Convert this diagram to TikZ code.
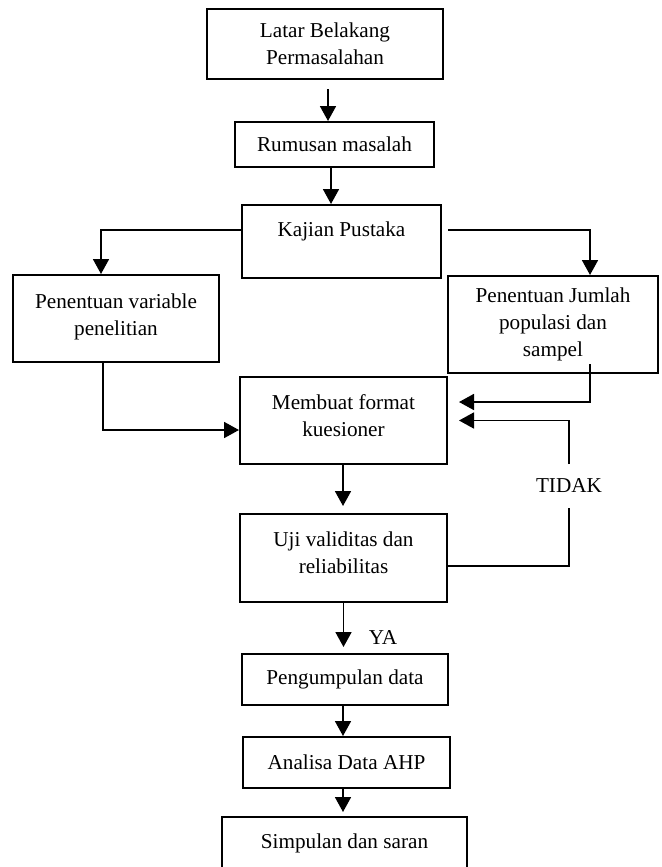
\documentclass[tikz,border=0pt]{standalone}
\usepackage{fontspec}
\setmainfont{Liberation Serif}
\usetikzlibrary{arrows.meta}
\usetikzlibrary{calc}

\begin{document}
\begin{tikzpicture}[x=0.5pt, y=-0.5pt,
    teks/.style={font=\fontsize{10.6}{13.5}\selectfont},
    kotak/.style={teks, draw, line width=1pt, align=center, inner sep=2pt},
    panah/.style={line width=0.9pt, -{Triangle[width=8pt, length=7.5pt]}},
    garis/.style={line width=0.9pt}]
      \useasboundingbox (0,0) rectangle (661,867);
      \clip (0,0) rectangle (661,867);

      \node[kotak, minimum width=118pt, minimum height=35pt] (latar) at (325,44) {Latar Belakang\\Permasalahan};
      \node[kotak, minimum width=99.5pt, minimum height=22.5pt] (rumusan) at (334.5,144.5) {Rumusan masalah};
      \node[kotak, minimum width=99.5pt, minimum height=36.5pt, text depth=12pt] (kajian) at (341.5,241.5) {Kajian Pustaka};
      \node[kotak, minimum width=103pt, minimum height=43.5pt, text depth=4pt] (variabel) at (116,318.5) {Penentuan variable\\penelitian};
      \node[kotak, minimum width=105pt, minimum height=48.5pt] (jumlah) at (553,324.5) {Penentuan Jumlah\\populasi dan\\sampel};
      \node[kotak, minimum width=103.5pt, minimum height=43.5pt, text depth=4.5pt] (kuesioner) at (343.5,420.5) {Membuat format\\kuesioner};
      \node[kotak, minimum width=103.5pt, minimum height=44pt, text depth=5pt] (uji) at (343.5,558) {Uji validitas dan\\reliabilitas};
      \node[kotak, minimum width=103pt, minimum height=25.5pt] (pengumpulan) at (345,679.5) {Pengumpulan data};
      \node[kotak, minimum width=103.5pt, minimum height=25.5pt] (analisa) at (346.5,762.5) {Analisa Data AHP};
      \node[kotak, minimum width=122.5pt, minimum height=26.5pt] (simpulan) at (344.5,843.5) {Simpulan dan saran};
      \node[teks, inner ysep=7.2pt, inner xsep=0pt] (tidak) at (569,486) {TIDAK};
      \node[teks, inner sep=0pt] (ya) at (383,637) {YA};

      \draw[panah, shorten <=4.5pt] ([xshift=1.5pt]latar.south) -- ([xshift=1.5pt]latar.south |- rumusan.north);
      \draw[panah] ([xshift=-1.75pt]rumusan.south) -- ([xshift=-1.75pt]rumusan.south |- kajian.north);
      \draw[panah] ([yshift=5.75pt]kajian.west) -| ([xshift=-7.5pt]variabel.north);
      \draw[panah, shorten <=3pt] ([yshift=5.75pt]kajian.east) -| ([xshift=18.5pt]jumlah.north);
      \draw[panah] ([xshift=-6.5pt]variabel.south) |- ([yshift=-4.75pt]kuesioner.west);
      \draw[panah, shorten >=5.5pt] ([xshift=18.5pt, yshift=5pt]jumlah.south) |- ([yshift=9.25pt]kuesioner.east);
      \draw[panah, shorten >=3.5pt] ([xshift=-0.25pt]kuesioner.south) -- ([xshift=-0.25pt]kuesioner.south |- uji.north);
      \draw[garis] ([yshift=-4pt]uji.east) -| (tidak.south);
      \draw[panah, shorten >=5.5pt] (tidak.north) |- (kuesioner.east);
      \draw[panah, shorten >=3pt] (uji.south) -- (uji.south |- pengumpulan.north);
      \draw[panah] ([xshift=-1pt]pengumpulan.south) -- ([xshift=-1pt]pengumpulan.south |- analisa.north);
      \draw[panah, shorten >=2pt] ([xshift=-1.75pt]analisa.south) -- ([xshift=-1.75pt]analisa.south |- simpulan.north);
\end{tikzpicture}
\end{document}
